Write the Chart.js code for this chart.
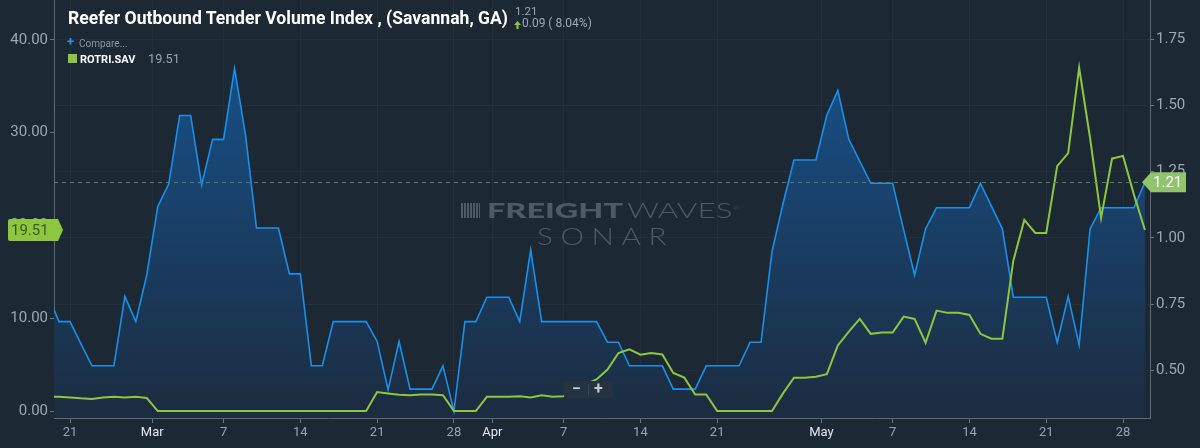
<!DOCTYPE html>
<html><head><meta charset="utf-8">
<script src="https://cdn.jsdelivr.net/npm/chart.js@4.4.0/dist/chart.umd.min.js"></script>
<style>
html,body{margin:0;padding:0;background:#1c2834;}
#wrap{position:relative;width:1200px;height:448px;overflow:hidden;background:#1c2834;font-family:Roboto,"Noto Sans",sans-serif;}
#c{position:absolute;left:0;top:0;}
.t{position:absolute;white-space:nowrap;transform-origin:0 0;line-height:normal;}
#title{left:68px;top:8px;color:#fff;font-weight:700;font-size:17.5px;}
#sub1{left:515px;top:4px;color:#a0a8b0;font-size:11.5px;}
#sub2{left:522px;top:16px;color:#a0a8b0;font-size:12px;}
#arrow{position:absolute;left:514px;top:21px;}
#plus{left:67px;top:34px;color:#2f8fe8;font-size:13px;font-weight:700;}
#cmp{left:79px;top:38px;color:#8e98a2;font-size:10px;}
#sq{position:absolute;left:68px;top:54px;width:9px;height:9px;background:#8dc63f;}
#leg{left:80px;top:52.5px;color:#fff;font-size:11px;font-weight:700;}
#legv{left:148px;top:51.3px;color:#9aa4ae;font-size:12.7px;}
.wm{color:#505a64;font-family:Lato,Roboto,sans-serif;}
#wm1{left:487px;top:197px;font-size:21px;font-weight:900;}
#wm2{left:627px;top:197px;font-size:21px;font-weight:300;}
#wm3{left:537px;top:222px;font-size:23.6px;font-weight:300;letter-spacing:6px;}
#icon{position:absolute;left:461px;top:203px;width:19px;height:15px;background:repeating-linear-gradient(90deg,#505a64 0 2px,transparent 2px 3px);}
#zoomc{position:absolute;left:564px;top:381px;width:49px;height:17px;background:#25323f;border-radius:2px;color:#c8cdd2;font-size:16px;font-weight:700;}
#zoomc span{position:absolute;top:-1px;line-height:18px;}
#zdiv{position:absolute;left:24px;top:3px;width:1px;height:11px;background:#3a4855;}
</style></head>
<body><div id="wrap">
<canvas id="c" width="1200" height="448"></canvas>
<div class="t" id="title">Reefer Outbound Tender Volume Index , (Savannah, GA)</div>
<div class="t" id="sub1">1.21</div>
<svg id="arrow" width="7" height="8" viewBox="0 0 7 8"><path d="M3.5 0 L7 4 L4.6 4 L4.6 8 L2.4 8 L2.4 4 L0 4 Z" fill="#8dc63f"/></svg>
<div class="t" id="sub2">0.09 ( 8.04%)</div>
<div class="t" id="plus">+</div>
<div class="t" id="cmp">Compare...</div>
<div id="sq"></div>
<div class="t" id="leg">ROTRI.SAV</div>
<div class="t" id="legv">19.51</div>
<div id="icon"></div>
<div class="t wm" id="wm1">FREIGHT</div>
<div class="t wm" id="wm2">WAVES<sup style="font-size:6px">®</sup></div>
<div class="t wm" id="wm3">SONAR</div>
<div id="zoomc"><span style="left:8px">−</span><div id="zdiv"></div><span style="left:30px">+</span></div>
</div>
<script>
// Days from Feb 19 (index 0) to May 30 (index 100)
const tickIdx    = [2, 10, 16, 23, 30, 37, 41, 47, 54, 61, 71, 77, 84, 91, 98];
const tickLabels = ['21','Mar','7','14','21','28','Apr','7','14','21','May','7','14','21','28'];
const monthTick  = [false,true,false,false,false,false,true,false,false,false,true,false,false,false,false];

// Reefer Outbound Tender Volume Index (right axis), Feb 19 .. May 30
const volumeIndex = [
  0.78,0.684,0.684,0.60,0.517,0.517,0.517,0.779,0.684,0.86,
  1.118,1.203,1.462,1.462,1.20,1.372,1.372,1.640,1.389,1.037,
  1.037,1.037,0.864,0.864,0.517,0.517,0.684,0.684,0.684,0.684,
  0.609,0.426,0.609,0.429,0.429,0.429,0.517,0.345,0.684,0.684,
  0.776,0.776,0.776,0.684,0.955,0.684,0.684,0.684,0.684,0.684,
  0.684,0.606,0.606,0.517,0.517,0.517,0.517,0.429,0.429,0.429,
  0.517,0.517,0.517,0.517,0.606,0.606,0.948,1.129,1.294,1.294,
  1.294,1.464,1.556,1.372,1.289,1.206,1.206,1.206,1.03,0.86,
  1.034,1.114,1.114,1.114,1.114,1.206,1.12,1.034,0.776,0.776,
  0.776,0.776,0.605,0.779,0.596,1.034,1.114,1.114,1.114,1.114,
  1.21
];
// ROTRI.SAV rejection index (left axis), Feb 19 .. May 30
const rejectionIndex = [
  1.55,1.55,1.47,1.37,1.30,1.47,1.53,1.47,1.53,1.40,
  0,0,0,0,0,0,0,0,0,0,
  0,0,0,0,0,0,0,0,0,0,
  2.04,1.90,1.75,1.71,1.78,1.78,1.70,0,0,0,
  1.53,1.53,1.53,1.60,1.47,1.71,1.53,1.60,2.30,2.90,
  3.40,4.47,6.25,6.65,6.07,6.25,6.10,4.10,3.60,1.78,
  1.78,0,0,0,0,0,0,1.90,3.60,3.60,
  3.70,3.97,7.07,8.57,9.93,8.32,8.47,8.47,10.18,9.93,
  7.36,10.83,10.58,10.58,10.36,8.32,7.79,7.79,16.2,20.6,
  19.2,19.2,26.4,27.8,37.0,29.4,20.8,27.2,27.5,23.3,
  19.51
];
const leftTicks  = [0, 10, 20, 30, 40];
const rightTicks = [0.5, 0.75, 1.0, 1.25, 1.5, 1.75];
const lastVolume = volumeIndex[volumeIndex.length - 1];
const lastReject = rejectionIndex[rejectionIndex.length - 1];

function fitWidth(id, w){
  const el = document.getElementById(id);
  const cw = el.getBoundingClientRect().width;
  if (cw > 0) el.style.transform = 'scaleX(' + (w / cw) + ')';
}
fitWidth('title', 440);
fitWidth('wm1', 136);
fitWidth('wm2', 113);
fitWidth('wm3', 137);

function noPad(s){ s.paddingTop = 0; s.paddingBottom = 0; s.paddingLeft = 0; s.paddingRight = 0; }

const markerPlugin = {
  id: 'markers',
  afterDatasetsDraw(chart){
    const ctx = chart.ctx, ca = chart.chartArea;
    const yR = chart.scales.yR, yL = chart.scales.yL;
    const yb = yR.getPixelForValue(lastVolume);
    ctx.save();
    ctx.strokeStyle = '#5e7a58';
    ctx.lineWidth = 1;
    ctx.setLineDash([4, 4]);
    ctx.beginPath(); ctx.moveTo(ca.left, Math.round(yb) + 0.5); ctx.lineTo(ca.right, Math.round(yb) + 0.5); ctx.stroke();
    ctx.setLineDash([]);
    // right marker
    ctx.fillStyle = '#90c46c';
    ctx.beginPath();
    ctx.moveTo(ca.right - 8, yb);
    ctx.lineTo(ca.right + 1, yb - 10);
    ctx.lineTo(1186, yb - 10);
    ctx.lineTo(1186, yb + 10);
    ctx.lineTo(ca.right + 1, yb + 10);
    ctx.closePath(); ctx.fill();
    ctx.fillStyle = '#ffffff';
    ctx.font = '15px Roboto';
    ctx.textBaseline = 'middle';
    ctx.textAlign = 'left';
    ctx.fillText(lastVolume.toFixed(2), 1153, yb + 1);
    // left marker
    const yg = yL.getPixelForValue(lastReject);
    ctx.fillStyle = '#8dc63f';
    ctx.beginPath();
    ctx.moveTo(ca.left + 9, yg);
    ctx.lineTo(ca.left + 4, yg - 11);
    ctx.lineTo(10, yg - 11);
    ctx.quadraticCurveTo(8, yg - 11, 8, yg - 9);
    ctx.lineTo(8, yg + 9);
    ctx.quadraticCurveTo(8, yg + 11, 10, yg + 11);
    ctx.lineTo(ca.left + 4, yg + 11);
    ctx.closePath(); ctx.fill();
    ctx.fillStyle = '#3e5a22';
    ctx.fillText(lastReject.toFixed(2), 11, yg + 1);
    ctx.restore();
  }
};

const ctx = document.getElementById('c').getContext('2d');
new Chart(ctx, {
  type: 'line',
  data: {
    datasets: [
      {
        label: 'ROTRI.SAV',
        data: rejectionIndex.map((v, i) => ({x: i, y: v})),
        yAxisID: 'yL',
        borderColor: '#8dc63f',
        borderWidth: 2,
        pointRadius: 0,
        fill: false,
        tension: 0,
        order: 0
      },
      {
        label: 'Reefer Outbound Tender Volume Index',
        data: volumeIndex.map((v, i) => ({x: i, y: v})),
        yAxisID: 'yR',
        borderColor: '#1b90ea',
        borderWidth: 1.6,
        pointRadius: 0,
        tension: 0,
        fill: 'start',
        order: 1,
        backgroundColor: (c) => {
          const ca = c.chart.chartArea;
          if (!ca) return 'rgba(23,80,138,0.6)';
          const g = c.chart.ctx.createLinearGradient(0, ca.top + 40, 0, ca.bottom);
          g.addColorStop(0, '#17528c');
          g.addColorStop(1, '#1c2c40');
          return g;
        }
      }
    ]
  },
  options: {
    responsive: false,
    animation: false,
    devicePixelRatio: 1,
    layout: {padding: 0},
    plugins: {legend: {display: false}, tooltip: {enabled: false}},
    scales: {
      x: {
        type: 'linear',
        min: 0.54, max: 100.46,
        afterBuildTicks: (s) => { s.ticks = tickIdx.map((v, i) => ({value: monthTick[i] ? v - 0.5 : v})); },
        afterFit: (s) => { s.height = 30; noPad(s); },
        ticks: {
          autoSkip: false, maxRotation: 0, padding: 2,
          callback: (v, i) => tickLabels[i],
          color: (c) => monthTick[c.index] ? '#e4e8ec' : '#9aa4ae',
          font: {family: 'Roboto', size: 13}
        },
        grid: {color: 'rgba(255,255,255,0.035)', tickColor: '#6c7680', tickLength: 5},
        border: {display: true, color: '#5f6a74'}
      },
      yL: {
        type: 'linear', position: 'left',
        min: -0.75, max: 44.3,
        afterBuildTicks: (s) => { s.ticks = leftTicks.map(v => ({value: v})); },
        afterFit: (s) => { s.width = 54; noPad(s); },
        ticks: {callback: (v) => Number(v).toFixed(2), color: '#9ea7b0', font: {family: 'Roboto', size: 15}, padding: 2},
        grid: {drawOnChartArea: false, tickColor: '#6c7680', tickLength: 4},
        border: {display: true, color: '#5f6a74'}
      },
      yR: {
        type: 'linear', position: 'right',
        min: 0.32, max: 1.898,
        afterBuildTicks: (s) => { s.ticks = rightTicks.map(v => ({value: v})); },
        afterFit: (s) => { s.width = 50; noPad(s); },
        ticks: {callback: (v) => Number(v).toFixed(2), color: '#9ea7b0', font: {family: 'Roboto', size: 15}, padding: 2},
        grid: {color: 'rgba(255,255,255,0.035)', tickColor: '#6c7680', tickLength: 4},
        border: {display: true, color: '#5f6a74'}
      }
    }
  },
  plugins: [markerPlugin]
});
</script>
</body></html>
